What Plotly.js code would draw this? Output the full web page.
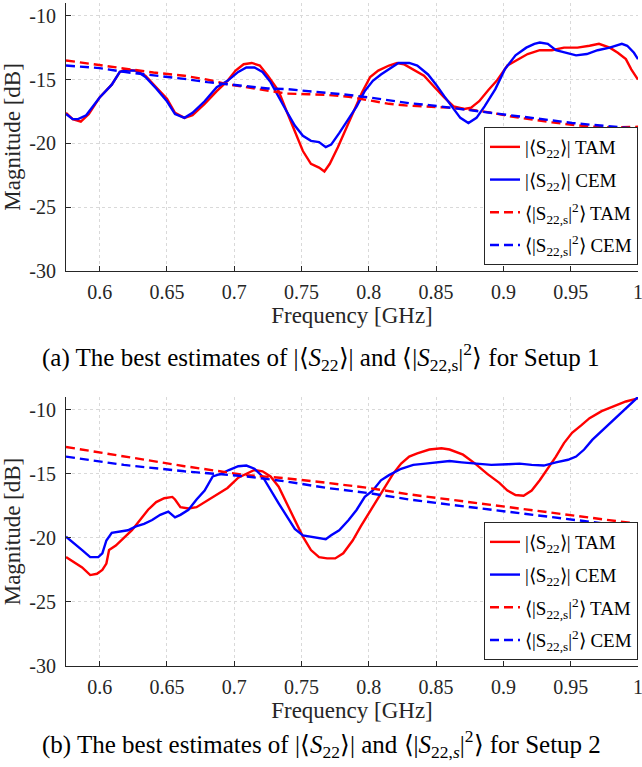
<!DOCTYPE html>
<html>
<head>
<meta charset="utf-8">
<script src="https://cdn.plot.ly/plotly-3.0.1.min.js"></script>
<style>html,body{margin:0;padding:0;background:#fff;}#chart{width:642px;height:767px;}</style>
</head>
<body>
<div id="chart"></div>
<script>
// ---------- Setup 1 (top panel) ----------
const f1Tam = [0.575,0.580,0.586,0.592,0.600,0.609,0.615,0.619,0.627,0.634,0.642,0.650,0.656,0.663,0.669,0.678,0.687,0.695,0.701,0.707,0.713,0.719,0.725,0.733,0.739,0.745,0.751,0.757,0.763,0.767,0.771,0.777,0.783,0.789,0.795,0.801,0.807,0.815,0.821,0.826,0.833,0.841,0.848,0.856,0.863,0.871,0.876,0.882,0.889,0.895,0.903,0.911,0.918,0.927,0.936,0.945,0.955,0.964,0.971,0.979,0.985,0.991,0.995,1.000];
const s1Tam = [-17.6,-18.1,-18.3,-17.7,-16.4,-15.4,-14.4,-14.2,-14.3,-14.7,-15.6,-16.5,-17.6,-18.0,-17.8,-16.9,-15.9,-15.1,-14.3,-13.8,-13.7,-13.9,-14.7,-15.9,-17.5,-19.0,-20.6,-21.6,-21.9,-22.2,-21.6,-20.3,-18.9,-17.5,-16.0,-14.8,-14.3,-13.9,-13.7,-13.8,-14.2,-14.7,-15.5,-16.4,-17.1,-17.3,-17.2,-16.7,-15.8,-15.1,-13.9,-13.4,-13.0,-12.7,-12.7,-12.5,-12.5,-12.35,-12.2,-12.5,-12.9,-13.4,-14.2,-15.0];

const f1Cem = [0.575,0.580,0.584,0.590,0.600,0.609,0.615,0.619,0.627,0.634,0.642,0.650,0.656,0.663,0.669,0.678,0.687,0.695,0.703,0.709,0.715,0.721,0.727,0.733,0.739,0.745,0.751,0.757,0.763,0.768,0.772,0.778,0.785,0.791,0.797,0.803,0.809,0.815,0.822,0.830,0.836,0.844,0.850,0.856,0.862,0.868,0.874,0.880,0.886,0.894,0.901,0.909,0.917,0.923,0.927,0.933,0.939,0.947,0.954,0.962,0.970,0.979,0.988,0.992,0.997,1.000];
const s1Cem = [-17.7,-18.1,-18.1,-17.8,-16.4,-15.4,-14.4,-14.3,-14.3,-14.8,-15.7,-16.7,-17.7,-18.0,-17.6,-16.7,-15.6,-15.1,-14.4,-14.05,-14.05,-14.4,-15.2,-16.4,-17.5,-18.6,-19.4,-19.8,-19.9,-20.3,-20.1,-19.2,-18.1,-17.1,-15.9,-15.1,-14.6,-14.2,-13.7,-13.7,-13.9,-14.6,-15.4,-16.3,-17.2,-18.0,-18.4,-18.0,-17.1,-15.75,-14.2,-13.1,-12.5,-12.2,-12.1,-12.2,-12.7,-12.9,-13.1,-13.0,-12.7,-12.5,-12.2,-12.35,-12.9,-13.4];

const f1Sq = [0.575,0.600,0.618,0.640,0.663,0.680,0.694,0.709,0.725,0.739,0.755,0.769,0.785,0.800,0.815,0.830,0.845,0.860,0.875,0.891,0.906,0.921,0.936,0.951,0.966,0.981,1.000];
const s1SqTam = [-13.5,-13.85,-14.15,-14.45,-14.7,-15.0,-15.35,-15.6,-15.9,-16.1,-16.15,-16.2,-16.35,-16.6,-16.9,-17.05,-17.1,-17.2,-17.35,-17.6,-17.9,-18.15,-18.35,-18.55,-18.7,-18.75,-18.7];
const s1SqCem = [-13.9,-14.1,-14.4,-14.65,-14.95,-15.2,-15.35,-15.5,-15.7,-15.75,-15.9,-16.0,-16.2,-16.4,-16.65,-16.85,-17.0,-17.2,-17.4,-17.6,-17.8,-18.0,-18.2,-18.4,-18.55,-18.7,-18.85];

// ---------- Setup 2 (bottom panel) ----------
const f2Tam = [0.575,0.581,0.587,0.593,0.598,0.602,0.605,0.607,0.612,0.618,0.624,0.630,0.636,0.642,0.648,0.654,0.656,0.660,0.666,0.672,0.678,0.687,0.695,0.703,0.709,0.715,0.721,0.727,0.733,0.739,0.745,0.751,0.757,0.763,0.769,0.775,0.781,0.788,0.794,0.800,0.806,0.812,0.818,0.824,0.830,0.836,0.845,0.854,0.860,0.870,0.879,0.888,0.897,0.903,0.909,0.915,0.921,0.927,0.933,0.939,0.945,0.951,0.958,0.964,0.973,0.982,0.991,1.000];
const s2Tam = [-21.5,-21.9,-22.3,-22.9,-22.8,-22.5,-22.0,-20.95,-20.6,-20.0,-19.4,-18.6,-17.8,-17.2,-16.9,-16.8,-17.0,-17.6,-17.7,-17.6,-17.2,-16.65,-16.1,-15.3,-15.0,-14.7,-14.8,-15.2,-16.0,-17.3,-18.6,-19.9,-20.95,-21.5,-21.6,-21.6,-21.2,-20.2,-19.1,-18.1,-17.0,-16.0,-15.0,-14.2,-13.65,-13.4,-13.1,-13.0,-13.1,-13.5,-14.2,-15.0,-15.7,-16.3,-16.65,-16.7,-16.3,-15.5,-14.6,-13.65,-12.6,-11.8,-11.2,-10.65,-10.1,-9.7,-9.35,-9.1];

const f2Cem = [0.575,0.581,0.587,0.593,0.599,0.602,0.605,0.609,0.615,0.621,0.627,0.633,0.639,0.645,0.651,0.656,0.660,0.666,0.672,0.678,0.684,0.690,0.696,0.703,0.709,0.715,0.721,0.727,0.733,0.739,0.745,0.751,0.757,0.763,0.768,0.772,0.778,0.785,0.791,0.797,0.803,0.809,0.815,0.824,0.833,0.842,0.851,0.860,0.869,0.879,0.891,0.903,0.912,0.921,0.930,0.939,0.948,0.954,0.960,0.966,0.975,0.985,0.994,1.000];
const s2Cem = [-19.9,-20.4,-20.95,-21.5,-21.5,-21.2,-20.2,-19.6,-19.5,-19.4,-19.1,-18.9,-18.6,-18.2,-17.95,-18.4,-18.2,-17.8,-17.0,-16.3,-15.2,-15.0,-14.7,-14.4,-14.35,-14.6,-15.2,-16.3,-17.3,-18.3,-19.3,-19.8,-19.9,-20.0,-20.1,-19.8,-19.4,-18.6,-17.8,-16.8,-16.3,-15.5,-15.1,-14.6,-14.3,-14.2,-14.1,-14.0,-14.1,-14.2,-14.3,-14.25,-14.2,-14.3,-14.35,-14.1,-13.9,-13.65,-13.1,-12.35,-11.45,-10.5,-9.6,-9.0];

const f2Sq = [0.575,0.618,0.663,0.709,0.739,0.769,0.800,0.830,0.860,0.891,0.921,0.951,0.975,1.000];
const s2SqTam = [-12.9,-13.65,-14.4,-15.1,-15.35,-15.7,-16.1,-16.6,-17.0,-17.4,-17.8,-18.2,-18.55,-18.9];
const s2SqCem = [-13.65,-14.3,-14.8,-15.2,-15.6,-16.1,-16.5,-17.0,-17.4,-17.8,-18.2,-18.6,-18.9,-19.2];

// ---------- labels ----------
const nameTam = "|⟨S<sub>22</sub>⟩| TAM";
const nameCem = "|⟨S<sub>22</sub>⟩| CEM";
const nameSqTam = "⟨|S<sub>22,s</sub>|<sup>2</sup>⟩ TAM";
const nameSqCem = "⟨|S<sub>22,s</sub>|<sup>2</sup>⟩ CEM";
const xTickVals = [0.6,0.65,0.7,0.75,0.8,0.85,0.9,0.95,1];
const xTickText = ["0.6","0.65","0.7","0.75","0.8","0.85","0.9","0.95","1"];
const yTickVals = [-30,-25,-20,-15,-10];
const yTickText = ["-30","-25","-20","-15","-10"];
const captionA = "(a) The best estimates of |⟨<i>S</i><sub>22</sub>⟩| and ⟨|<i>S</i><sub>22,s</sub>|<sup>2</sup>⟩ for Setup 1";
const captionB = "(b) The best estimates of |⟨<i>S</i><sub>22</sub>⟩| and ⟨|<i>S</i><sub>22,<i>s</i></sub>|<sup>2</sup>⟩ for Setup 2";

const RED = "#ff0000", BLUE = "#0000ff";
const DASH = "9px,5px";
const LW = 2.4;

function tr(x, y, name, color, dash, xa, ya, lg, grp) {
  return {x: x, y: y, name: name, type: "scatter", mode: "lines",
    line: {color: color, width: LW, dash: dash},
    xaxis: xa, yaxis: ya, legend: lg, legendgroup: grp, hoverinfo: "skip"};
}

const data = [
  tr(f1Tam, s1Tam, nameTam, RED, "solid", "x2", "y2", "legend2", "a1"),
  tr(f1Cem, s1Cem, nameCem, BLUE, "solid", "x2", "y2", "legend2", "a2"),
  tr(f1Sq, s1SqTam, nameSqTam, RED, DASH, "x2", "y2", "legend2", "a3"),
  tr(f1Sq, s1SqCem, nameSqCem, BLUE, DASH, "x2", "y2", "legend2", "a4"),
  tr(f2Tam, s2Tam, nameTam, RED, "solid", "x", "y", "legend", "b1"),
  tr(f2Cem, s2Cem, nameCem, BLUE, "solid", "x", "y", "legend", "b2"),
  tr(f2Sq, s2SqTam, nameSqTam, RED, DASH, "x", "y", "legend", "b3"),
  tr(f2Sq, s2SqCem, nameSqCem, BLUE, DASH, "x", "y", "legend", "b4")
];

const FONT = "Liberation Serif";
const AXC = "#262626";
const GRID = "#d9d9d9";

function xax(anchor) {
  return {anchor: anchor, range: [0.575, 1], tickvals: xTickVals, ticktext: xTickText,
    ticks: "inside", ticklen: 5, tickcolor: AXC, showline: true, linecolor: AXC, linewidth: 1,
    showgrid: true, gridcolor: GRID, griddash: "dot", gridwidth: 1, zeroline: false,
    tickfont: {family: FONT, size: 20, color: AXC}, ticklabelstandoff: 3, ticklabeloverflow: "allow",
    title: {text: "Frequency [GHz]", font: {family: FONT, size: 23, color: AXC}, standoff: 4},
    automargin: false, fixedrange: true};
}
function yax(anchor, domain) {
  return {anchor: anchor, domain: domain, range: [-30, -9], tickvals: yTickVals, ticktext: yTickText,
    ticks: "inside", ticklen: 5, tickcolor: AXC, showline: true, linecolor: AXC, linewidth: 1,
    showgrid: true, gridcolor: GRID, griddash: "dot", gridwidth: 1, zeroline: false,
    tickfont: {family: FONT, size: 20, color: AXC}, ticklabelstandoff: 5,
    title: {text: "Magnitude [dB]", font: {family: FONT, size: 23, color: AXC}, standoff: 3},
    automargin: false, fixedrange: true};
}
function leg(y) {
  return {x: 1, xanchor: "right", y: y, yanchor: "bottom", bgcolor: "#ffffff",
    bordercolor: AXC, borderwidth: 1, font: {family: FONT, size: 19, color: "#000"},
    tracegroupgap: 5, itemwidth: 30, traceorder: "grouped"};
}

const layout = {
  width: 642, height: 767,
  margin: {l: 66, r: 4, t: 3, b: 101},
  paper_bgcolor: "#ffffff", plot_bgcolor: "#ffffff",
  font: {family: FONT},
  showlegend: true,
  xaxis: xax("y"),
  yaxis: yax("x", [0, 0.4057]),
  xaxis2: xax("y2"),
  yaxis2: yax("x2", [0.5958, 1]),
  legend: leg(0.009),
  legend2: leg(0.6048),
  annotations: [
    {text: captionA, xref: "paper", yref: "paper", x: 0.445, y: 0.466, xanchor: "center", yanchor: "middle",
     showarrow: false, font: {family: FONT, size: 25, color: "#000"}},
    {text: captionB, xref: "paper", yref: "paper", x: 0.446, y: -0.1478, xanchor: "center", yanchor: "bottom",
     showarrow: false, font: {family: FONT, size: 25, color: "#000"}}
  ]
};

Plotly.newPlot("chart", data, layout, {displayModeBar: false, staticPlot: true});
</script>
</body>
</html>
